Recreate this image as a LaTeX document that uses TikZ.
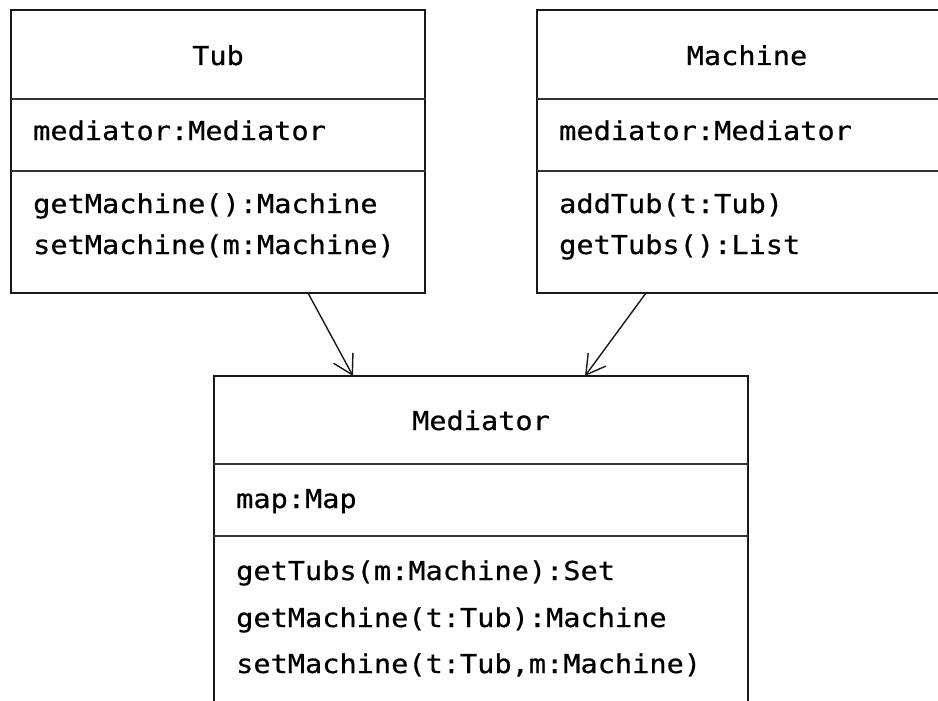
\documentclass[tikz,border=0pt]{standalone}
\usepackage{fontspec}
\setmonofont{DejaVu Sans Mono}[FakeStretch=1.1,FakeBold=0.6]
\usetikzlibrary{arrows.meta}
\begin{document}
\begin{tikzpicture}[x=1pt,y=-1pt,
 box/.style={draw=black!90, line width=1.5pt, rectangle, inner sep=0pt, outer sep=0pt, anchor=north west},
 sep/.style={draw=black!80, line width=1.5pt},
 txt/.style={font=\ttfamily\fontsize{26}{30}\selectfont, inner sep=0pt, anchor=base west, text=black},
 ttl/.style={txt, anchor=base},
 assoc/.style={draw=black!90, line width=1.4pt, -{Straight Barb[length=19pt,width=22pt,line width=1.4pt]}}]
\clip (0,0) rectangle (938,701);
\fill[white] (0,0) rectangle (938,701);
% boxes
\node[box, minimum width=414pt, minimum height=283pt] (tub) at (11,10) {};
\node[box, minimum width=420pt, minimum height=283pt] (mach) at (537,10) {};
\node[box, minimum width=534pt, minimum height=360pt] (med) at (214,376) {};
% compartment separators
\draw[sep] (tub.west |- 0,99) -- (tub.east |- 0,99);
\draw[sep] (tub.west |- 0,171) -- (tub.east |- 0,171);
\draw[sep] (mach.west |- 0,99) -- (mach.east |- 0,99);
\draw[sep] (mach.west |- 0,171) -- (mach.east |- 0,171);
\draw[sep] (med.west |- 0,464) -- (med.east |- 0,464);
\draw[sep] (med.west |- 0,536) -- (med.east |- 0,536);
% Tub texts
\node[ttl] (tubT) at (218,65) {Tub};
\node[txt] (tubA) at (33,140) {mediator:Mediator};
\node[txt] (tubM1) at (33,213) {getMachine():Machine};
\node[txt] (tubM2) at (33,254) {setMachine(m:Machine)};
% Machine texts
\node[ttl] (machT) at (747,65) {Machine};
\node[txt] (machA) at (559,140) {mediator:Mediator};
\node[txt] (machM1) at (559,213) {addTub(t:Tub)};
\node[txt] (machM2) at (559,254) {getTubs():List};
% Mediator texts
\node[ttl] (medT) at (481,430) {Mediator};
\node[txt] (medA) at (236,508) {map:Map};
\node[txt] (medM1) at (236,580) {getTubs(m:Machine):Set};
\node[txt] (medM2) at (236,627) {getMachine(t:Tub):Machine};
\node[txt] (medM3) at (236,673) {setMachine(t:Tub,m:Machine)};
% associations
\draw[assoc] ([xshift=297pt]tub.south west) -- ([xshift=139pt]med.north west);
\draw[assoc] ([xshift=109pt]mach.south west) -- ([xshift=371pt]med.north west);
\end{tikzpicture}
\end{document}
